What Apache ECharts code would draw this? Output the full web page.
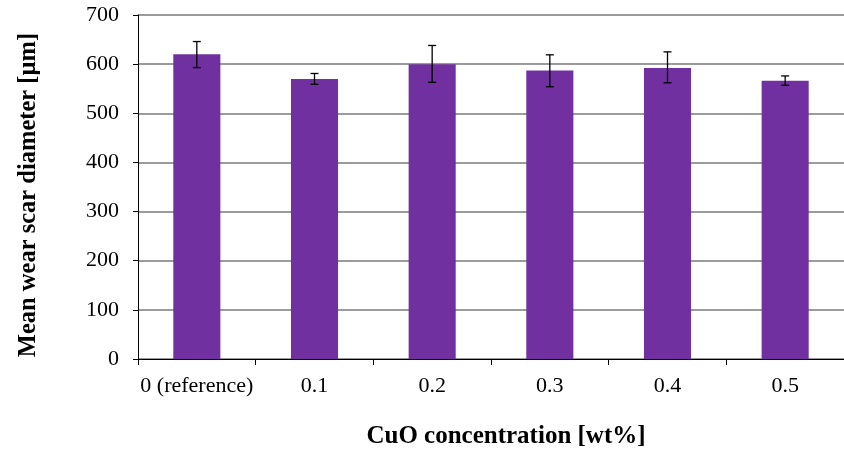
<!DOCTYPE html>
<html>
<head>
<meta charset="utf-8">
<script src="https://cdn.jsdelivr.net/npm/echarts@6/dist/echarts.min.js"></script>
<style>
  html, body { margin: 0; padding: 0; background: #fff; }
  #chart { width: 844px; height: 459px; }
</style>
</head>
<body>
<div id="chart"></div>
<script>
// data
const categories = ["0 (reference)", "0.1", "0.2", "0.3", "0.4", "0.5"];
const meanDiameter = [620, 570, 600, 587, 592, 566];
const errLow = [593, 559, 563, 554, 562, 557];
const errHigh = [646, 581, 638, 619, 625, 576];

const font = "'Liberation Serif', 'Times New Roman', serif";
const chart = echarts.init(document.getElementById("chart"));

const option = {
  animation: false,
  // plot area runs a little past the right edge, like the original crop
  grid: { left: 138, top: 15, width: 712, height: 344 },
  xAxis: {
    type: "category",
    data: categories,
    name: "CuO concentration [wt%]",
    nameLocation: "middle",
    nameGap: 65,
    nameTextStyle: { fontFamily: font, fontSize: 25, fontWeight: "bold", color: "#000", padding: [0, 0, 0, 30] },
    axisLine: { lineStyle: { color: "#000", width: 1 } },
    axisTick: { show: true, interval: 0, alignWithLabel: false, length: 6, lineStyle: { color: "#000" } },
    axisLabel: { interval: 0, hideOverlap: false, fontFamily: font, fontSize: 22, color: "#000", margin: 16 },
    splitLine: { show: false }
  },
  yAxis: {
    type: "value",
    min: 0,
    max: 700,
    interval: 100,
    name: "Mean wear scar diameter [µm]",
    nameLocation: "middle",
    nameGap: 97,
    nameTextStyle: { fontFamily: font, fontSize: 24.5, fontWeight: "bold", color: "#000", padding: [0, 16, 0, 0] },
    axisLine: { show: true, lineStyle: { color: "#000", width: 1 } },
    axisTick: { show: true, inside: false, length: 5, lineStyle: { color: "#000" } },
    axisLabel: { fontFamily: font, fontSize: 22, color: "#000", margin: 19 },
    splitLine: { show: true, lineStyle: { color: "#7a7a7a", width: 1.5 } }
  },
  series: [
    {
      name: "mean",
      type: "bar",
      data: meanDiameter,
      barWidth: "40%",
      itemStyle: { color: "#7030A0" }
    },
    {
      name: "error",
      type: "custom",
      data: categories.map((c, i) => [i, errLow[i], errHigh[i]]),
      z: 5,
      renderItem(params, api) {
        const lo = api.coord([api.value(0), api.value(1)]);
        const hi = api.coord([api.value(0), api.value(2)]);
        const cap = 4;
        const style = { stroke: "#000", lineWidth: 1.3 };
        return {
          type: "group",
          children: [
            { type: "line", shape: { x1: hi[0], y1: hi[1], x2: lo[0], y2: lo[1] }, style },
            { type: "line", shape: { x1: hi[0] - cap, y1: hi[1], x2: hi[0] + cap, y2: hi[1] }, style },
            { type: "line", shape: { x1: lo[0] - cap, y1: lo[1], x2: lo[0] + cap, y2: lo[1] }, style }
          ]
        };
      }
    }
  ]
};

chart.setOption(option);
</script>
</body>
</html>
